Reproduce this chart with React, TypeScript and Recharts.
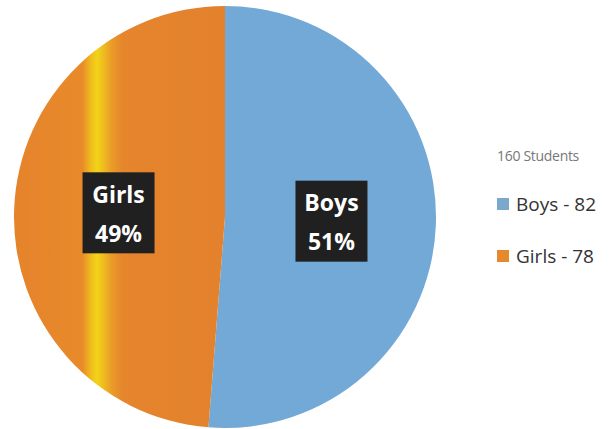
import { PieChart, Pie, Cell, Legend } from "recharts";

const categories = ["Boys", "Girls"];
const counts = [82, 78];
const total = 160;
const colors = ["#72A9D6", "#E5832C"];
const legendColors = ["#7AA9CB", "#E38A30"];

const data = categories.map((name, i) => ({ name, value: counts[i] }));

const RADIAN = Math.PI / 180;

const renderLabel = (props: any) => {
  const { cx, cy, midAngle, outerRadius, index, percent } = props;
  const r = outerRadius * 0.505;
  const x = cx + r * Math.cos(-midAngle * RADIAN);
  const y = cy + r * Math.sin(-midAngle * RADIAN);
  const w = 72;
  const h = 81;
  return (
    <g>
      <rect x={x - w / 2} y={y - h / 2} width={w} height={h} fill="#202020" />
      <text
        x={x}
        y={y - 10}
        textAnchor="middle"
        fill="#ffffff"
        fontFamily="'Open Sans', sans-serif"
        fontWeight="bold"
        fontSize={23}
      >
        {categories[index]}
      </text>
      <text
        x={x}
        y={y + 29}
        textAnchor="middle"
        fill="#ffffff"
        fontFamily="'Open Sans', sans-serif"
        fontWeight="bold"
        fontSize={23}
      >
        {Math.round(percent * 100)}%
      </text>
    </g>
  );
};

const renderLegend = () => (
  <div style={{ fontFamily: "'Open Sans', sans-serif" }}>
    <div style={{ fontSize: 14, color: "#777", marginBottom: 26, letterSpacing: -0.3 }}>
      {total} Students
    </div>
    {categories.map((c, i) => (
      <div
        key={c}
        style={{ display: "flex", alignItems: "center", fontSize: 19, color: "#333", marginBottom: 26 }}
      >
        <span
          style={{
            display: "inline-block",
            width: 12,
            height: 12,
            background: legendColors[i],
            marginRight: 7,
          }}
        />
        {c} - {counts[i]}
      </div>
    ))}
  </div>
);

export default function App() {
  return (
    <div style={{ position: "absolute", left: 0, top: 0, background: "#fff" }}>
      <PieChart width={609} height={429} margin={{ top: 0, right: 0, bottom: 0, left: 0 }}>
        <defs>
          <linearGradient id="girlsFill" x1="12" y1="0" x2="225" y2="0" gradientUnits="userSpaceOnUse">
            <stop offset="0" stopColor="#E5832C" />
            <stop offset="0.33" stopColor="#E88A2A" />
            <stop offset="0.37" stopColor="#EFBC1E" />
            <stop offset="0.4" stopColor="#F2D418" />
            <stop offset="0.43" stopColor="#EFBB1F" />
            <stop offset="0.47" stopColor="#E99A28" />
            <stop offset="0.52" stopColor="#E5852C" />
            <stop offset="1" stopColor="#E3812D" />
          </linearGradient>
        </defs>
        <Pie
          data={data}
          dataKey="value"
          nameKey="name"
          cx={225}
          cy={217}
          outerRadius={211}
          startAngle={90}
          endAngle={-270}
          stroke="none"
          label={renderLabel}
          labelLine={false}
          isAnimationActive={false}
        >
          {data.map((d, i) => (
            <Cell key={d.name} fill={i === 1 ? "url(#girlsFill)" : colors[i]} />
          ))}
        </Pie>
        <Legend
          content={renderLegend}
          layout="vertical"
          wrapperStyle={{ position: "absolute", left: 497, top: 146, width: 112 }}
        />
      </PieChart>
    </div>
  );
}
